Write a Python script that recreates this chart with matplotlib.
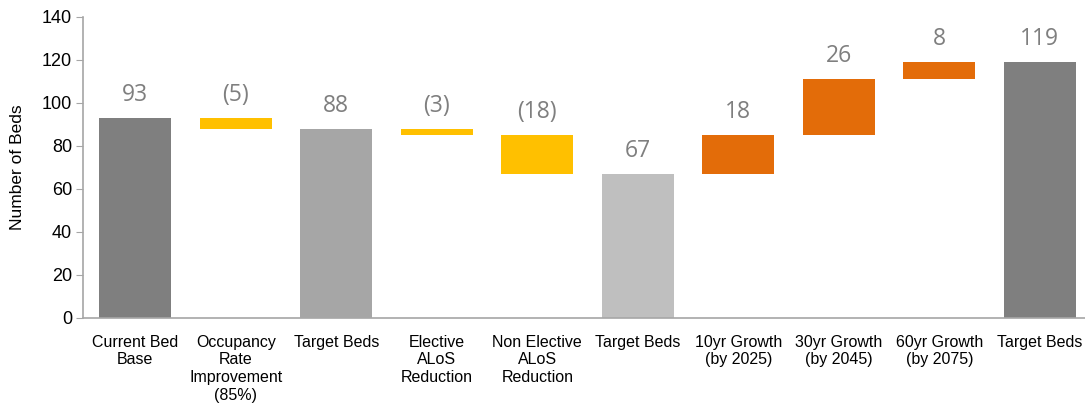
import matplotlib
matplotlib.use("Agg")
import matplotlib.pyplot as plt
from matplotlib import font_manager as fm

categories = ["Current Bed\nBase", "Occupancy\nRate\nImprovement\n(85%)", "Target Beds",
              "Elective\nALoS\nReduction", "Non Elective\nALoS\nReduction", "Target Beds",
              "10yr Growth\n(by 2025)", "30yr Growth\n(by 2045)", "60yr Growth\n(by 2075)", "Target Beds"]
values = [93, -5, 88, -3, -18, 67, 18, 26, 8, 119]
is_total = [True, False, True, False, False, True, False, False, False, True]
labels = ["93", "(5)", "88", "(3)", "(18)", "67", "18", "26", "8", "119"]
colors = ["#7F7F7F", "#FFC000", "#A6A6A6", "#FFC000", "#FFC000", "#BFBFBF",
          "#E36C09", "#E36C09", "#E36C09", "#7F7F7F"]

names = {f.name for f in fm.fontManager.ttflist}
tick_font = ["Liberation Sans Narrow", "Liberation Sans", "DejaVu Sans"]
tick_font = [f for f in tick_font if f in names] or ["DejaVu Sans"]
val_font = [f for f in ["Open Sans", "Noto Sans", "DejaVu Sans"] if f in names]

fig = plt.figure(figsize=(10.85, 4.2), dpi=100)
ax = fig.add_axes([0.0765, 0.243, 0.9235, 0.717])

bottoms, heights = [], []
running = 0
for v, t in zip(values, is_total):
    if t:
        bottoms.append(0)
        heights.append(v)
        running = v
    else:
        if v >= 0:
            bottoms.append(running)
        else:
            bottoms.append(running + v)
        heights.append(abs(v))
        running += v

x = list(range(len(values)))
ax.bar(x, heights, bottom=bottoms, width=0.72, color=colors, zorder=2)

for xi, b, h, lab in zip(x, bottoms, heights, labels):
    ax.annotate(lab, (xi, b + h), xytext=(0, 8), textcoords="offset points",
                ha="center", va="bottom", fontsize=16.5, color="#7F7F7F",
                family=val_font)

ax.set_xlim(-0.52, 9.45)
ax.set_ylim(0, 140)
ax.set_yticks(range(0, 141, 20))
ax.set_xticks(x)
ax.set_xticklabels(categories, family=tick_font, fontsize=11.5, linespacing=1.22, va="top")
ax.tick_params(axis="x", length=0, pad=12)
ax.tick_params(axis="y", length=5, color="#A6A6A6", labelsize=13, pad=3)
for lab in ax.get_yticklabels():
    lab.set_family(tick_font)
ax.set_ylabel("Number of Beds", family=tick_font, fontsize=12.5)
ax.yaxis.set_label_coords(-0.058, 0.5)
for s in ["top", "right"]:
    ax.spines[s].set_visible(False)
for s in ["left", "bottom"]:
    ax.spines[s].set_color("#A6A6A6")
    ax.spines[s].set_linewidth(1.2)

fig.savefig("out.png", dpi=100)
